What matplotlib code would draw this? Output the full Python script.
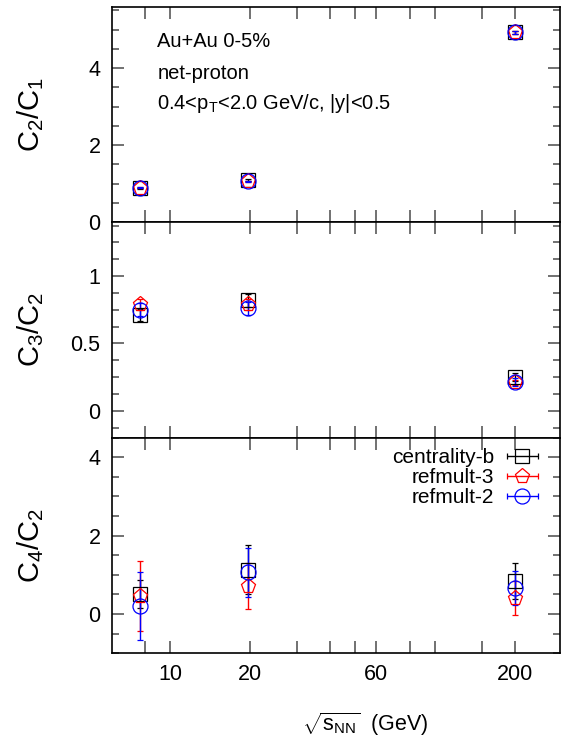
import numpy as np
import matplotlib
matplotlib.use("Agg")
import matplotlib.pyplot as plt
from matplotlib.ticker import FixedLocator, FixedFormatter, MultipleLocator, NullLocator, FormatStrFormatter
from matplotlib.container import ErrorbarContainer
from matplotlib.legend_handler import HandlerErrorbar

plt.rcParams['font.family'] = ['Liberation Sans', 'DejaVu Sans']
plt.rcParams['mathtext.fontset'] = 'custom'
plt.rcParams['mathtext.rm'] = 'Liberation Sans'
plt.rcParams['mathtext.it'] = 'Liberation Sans:italic'
plt.rcParams['mathtext.default'] = 'regular'

# beam energies (GeV)
energy = [7.7, 19.6, 200]
methods = ['centrality-b', 'refmult-3', 'refmult-2']

# C2/C1
c21 = {'centrality-b': [0.88, 1.09, 4.94],
       'refmult-3':    [0.90, 1.06, 4.94],
       'refmult-2':    [0.90, 1.06, 4.93]}
c21_err = {'centrality-b': [0.02, 0.02, 0.04],
           'refmult-3':    [0.02, 0.02, 0.04],
           'refmult-2':    [0.02, 0.02, 0.04]}

# C3/C2
c32 = {'centrality-b': [0.71, 0.82, 0.25],
       'refmult-3':    [0.79, 0.79, 0.21],
       'refmult-2':    [0.75, 0.76, 0.21]}
c32_err = {'centrality-b': [0.045, 0.05, 0.03],
           'refmult-3':    [0.04, 0.04, 0.02],
           'refmult-2':    [0.05, 0.05, 0.03]}

# C4/C2
c42 = {'centrality-b': [0.50, 1.13, 0.85],
       'refmult-3':    [0.45, 0.72, 0.40],
       'refmult-2':    [0.20, 1.06, 0.66]}
c42_err = {'centrality-b': [0.36, 0.63, 0.46],
           'refmult-3':    [0.89, 0.59, 0.43],
           'refmult-2':    [0.87, 0.62, 0.44]}

xtick_pos = [8, 10, 20, 30, 40, 50, 60, 80, 100, 150, 200]
xtick_lab = ['', '10', '20', '', '', '', '60', '', '', '', '200']

style = {'centrality-b': dict(color='black', marker='s', ms=10.3),
         'refmult-3':    dict(color='#ff0000', marker='p', ms=11),
         'refmult-2':    dict(color='#0000ff', marker='o', ms=10.8)}

fig = plt.figure(figsize=(5.7, 7.38), dpi=100)
L, R, T, B = 0.196, 0.983, 0.991, 0.115
h = (T - B) / 3
axes = [fig.add_axes([L, T - (i + 1) * h, R - L, h]) for i in range(3)]

panels = [(c21, c21_err, (0, 5.6), 2, 0.5, r'C$_2$/C$_1$'),
          (c32, c32_err, (-0.2, 1.4), 0.5, 0.125, r'C$_3$/C$_2$'),
          (c42, c42_err, (-1, 4.5), 2, 0.5, r'C$_4$/C$_2$')]

tick_col = '#4a4a4a'
conts = {}
for i, (ax, (vals, errs, ylim, maj, mnr, lab)) in enumerate(zip(axes, panels)):
    for m in methods:
        st = style[m]
        c = ax.errorbar(energy, vals[m], yerr=errs[m], fmt=st['marker'], ms=st['ms'],
                        mfc='none', mec=st['color'], mew=0.9, color=st['color'],
                        ecolor=st['color'], elinewidth=1.0, capsize=2.2, capthick=1.0,
                        label=m)
        conts[m] = c
    ax.set_xscale('log')
    ax.set_xlim(6.0, 297)
    ax.xaxis.set_major_locator(FixedLocator(xtick_pos))
    ax.xaxis.set_minor_locator(NullLocator())
    if i == 2:
        ax.xaxis.set_major_formatter(FixedFormatter(xtick_lab))
    else:
        ax.set_xticklabels([])
    ax.yaxis.set_major_locator(MultipleLocator(maj))
    ax.yaxis.set_minor_locator(MultipleLocator(mnr))
    ax.yaxis.set_major_formatter(FormatStrFormatter('%g'))
    ax.set_ylim(*ylim)
    ax.tick_params(which='both', direction='in', top=True, right=True,
                   color=tick_col, width=1.1, labelsize=15.5, pad=8)
    ax.tick_params(which='major', length=8.4)
    ax.tick_params(which='minor', length=4.8)
    for s in ax.spines.values():
        s.set_linewidth(1.2)
    fig.text(0.053, T - (i + 0.5) * h, lab, rotation=90, ha='center', va='center',
             fontsize=21)

ax0 = axes[0]
ax0.text(0.102, 0.815, 'Au+Au 0-5%', transform=ax0.transAxes, fontsize=14.5, va='baseline')
ax0.text(0.102, 0.666, 'net-proton', transform=ax0.transAxes, fontsize=14.5, va='baseline')
ax0.text(0.102, 0.526, r'0.4<p$_T$<2.0 GeV/c, |y|<0.5', transform=ax0.transAxes,
         fontsize=14.5, va='baseline')

# legend with horizontal error bars
handles = [ErrorbarContainer(conts[m].lines, has_xerr=True, has_yerr=False, label=m)
           for m in methods]
axes[2].legend(handles, methods, loc='upper right', bbox_to_anchor=(0.985, 1.0),
               frameon=False, markerfirst=False,
               fontsize=15, handlelength=2.0, handletextpad=0.35, labelspacing=0.05,
               borderpad=0.3, borderaxespad=0.2,
               handler_map={ErrorbarContainer: HandlerErrorbar(xerr_size=0.75)})

fig.text(0.64, 1 - 731 / 738, r'$\sqrt{s_{NN}}$  (GeV)', ha='center', va='baseline',
         fontsize=15.5)

fig.savefig('out.png', dpi=100)
